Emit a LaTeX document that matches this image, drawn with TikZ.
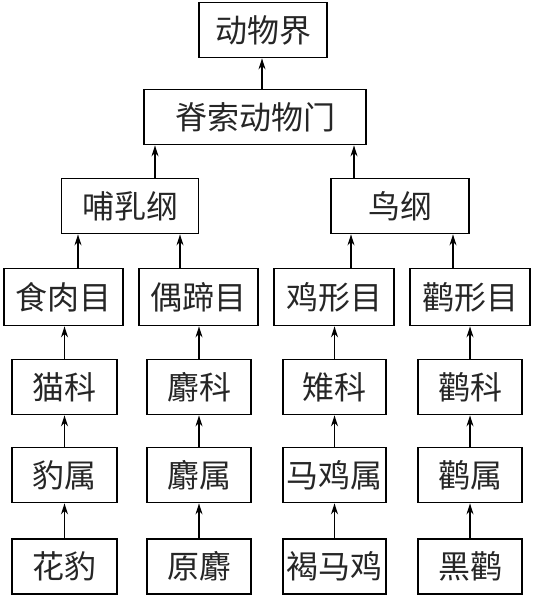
\documentclass[tikz,border=0pt]{standalone}
\usepackage{fontspec}
\newfontfamily\cjk{Noto Sans CJK SC}
\usetikzlibrary{arrows.meta}
\begin{document}
\begin{tikzpicture}[x=1pt,y=-1pt,
  box/.style={draw, line width=1.8pt, inner sep=0pt, minimum height=55pt, font=\cjk\fontsize{32}{32}\selectfont, text=black!85},
  arr/.style={line width=1.5pt, -{Stealth[length=11pt,width=7pt]}}]
\useasboundingbox (0,0) rectangle (533,597);
% level 0-2
\node[box, minimum width=128pt] (kingdom) at (263,30) {动物界};
\node[box, minimum width=222pt] (phylum) at (255,117) {脊索动物门};
\node[box, minimum width=137pt] (mammal) at (130,206) {哺乳纲};
\node[box, minimum width=138pt] (bird) at (400,206) {鸟纲};
% orders
\node[box, minimum width=119pt, minimum height=57pt] (carn) at (63.5,297) {食肉目};
\node[box, minimum width=119pt, minimum height=57pt] (artio) at (198.5,297) {偶蹄目};
\node[box, minimum width=120pt, minimum height=57pt] (galli) at (334,297) {鸡形目};
\node[box, minimum width=120pt, minimum height=57pt] (cico) at (470,297) {鹳形目};
% families
\node[box, minimum width=105pt] (felid) at (64.5,387) {猫科};
\node[box, minimum width=104pt] (mosch) at (199,387) {麝科};
\node[box, minimum width=103pt] (phas) at (334.5,387) {雉科};
\node[box, minimum width=104pt] (cicf) at (470,387) {鹳科};
% genera
\node[box, minimum width=105pt] (panth) at (64.5,475) {豹属};
\node[box, minimum width=104pt] (moschg) at (199,475) {麝属};
\node[box, minimum width=103pt] (cross) at (334.5,475) {马鸡属};
\node[box, minimum width=104pt] (ciconia) at (470,475) {鹳属};
% species
\node[box, minimum width=105pt] (leopard) at (64.5,566.5) {花豹};
\node[box, minimum width=104pt] (musk) at (199,566.5) {原麝};
\node[box, minimum width=103pt] (brown) at (334.5,566.5) {褐马鸡};
\node[box, minimum width=104pt] (stork) at (470,566.5) {黑鹳};
% arrows
\draw[arr] ([xshift=-1pt]phylum.north -| kingdom.south) -- ([xshift=-1pt]kingdom.south);
\draw[arr] ([xshift=25pt]mammal.north) -- ([xshift=25pt]mammal.north |- phylum.south);
\draw[arr] ([xshift=-46pt]bird.north) -- ([xshift=-46pt]bird.north |- phylum.south);
\draw[arr] ([xshift=14.5pt]carn.north) -- ([xshift=14.5pt]carn.north |- mammal.south);
\draw[arr] ([xshift=-18.5pt]artio.north) -- ([xshift=-18.5pt]artio.north |- mammal.south);
\draw[arr] ([xshift=17pt]galli.north) -- ([xshift=17pt]galli.north |- bird.south);
\draw[arr] ([xshift=-17pt]cico.north) -- ([xshift=-17pt]cico.north |- bird.south);
\foreach \c/\p in {felid/carn, mosch/artio, phas/galli, cicf/cico,
                   panth/felid, moschg/mosch, cross/phas, ciconia/cicf,
                   leopard/panth, musk/moschg, brown/cross, stork/ciconia}{
  \draw[arr] (\c.north) -- (\c.north |- \p.south);
}
\end{tikzpicture}
\end{document}
